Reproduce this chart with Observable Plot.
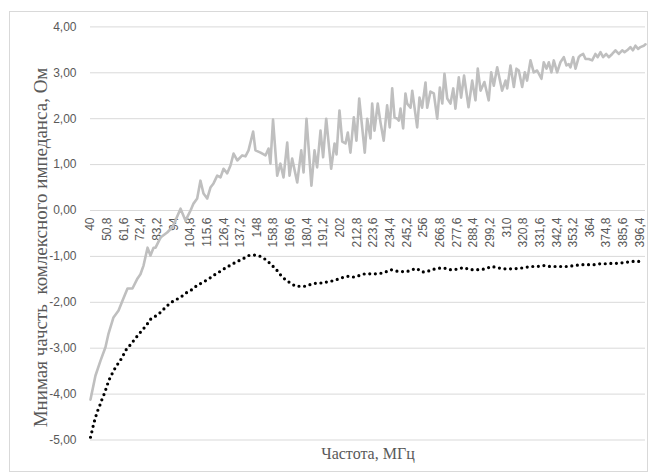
<!DOCTYPE html>
<html>
<head>
<meta charset="utf-8">
<script src="https://cdn.jsdelivr.net/npm/d3@7"></script>
<script src="https://cdn.jsdelivr.net/npm/@observablehq/plot@0.6"></script>
<style>
  html, body { margin: 0; padding: 0; background: #fff; }
</style>
</head>
<body>
<div id="chart"></div>
<script>
// ---- Data ----
const xTickValues = [40, 50.8, 61.6, 72.4, 83.2, 94, 104.8, 115.6, 126.4, 137.2, 148, 158.8, 169.6, 180.4, 191.2, 202, 212.8, 223.6, 234.4, 245.2, 256, 266.8, 277.6, 288.4, 299.2, 310, 320.8, 331.6, 342.4, 353.2, 364, 374.8, 385.6, 396.4];
const yTickValues = [-5, -4, -3, -2, -1, 0, 1, 2, 3, 4];

const grayFreq = [40.0, 43.2, 46.5, 49.7, 51.7, 54.9, 58.2, 60.8, 64.0, 67.2, 70.5, 72.4, 74.4, 77.0, 78.9, 80.9, 82.2, 85.4, 89.7, 93.0, 95.1, 98.4, 101.6, 104.9, 106.8, 109.2, 111.3, 113.3, 115.7, 117.8, 119.8, 122.2, 124.3, 126.3, 128.7, 130.8, 132.8, 135.2, 138.4, 140.5, 142.5, 145.5, 147.0, 150.3, 153.5, 155.5, 156.7, 158.4, 161.1, 163.2, 165.2, 167.6, 169.1, 170.8, 174.1, 176.7, 178.2, 180.1, 183.3, 185.3, 187.0, 189.2, 190.9, 192.9, 196.1, 198.3, 199.6, 201.5, 203.3, 205.4, 206.9, 208.6, 210.8, 212.5, 214.3, 217.9, 219.5, 221.6, 222.7, 224.2, 226.3, 228.1, 230.2, 232.4, 234.1, 235.7, 237.2, 238.9, 240.0, 241.1, 242.8, 244.3, 245.4, 247.6, 248.7, 251.9, 253.4, 255.1, 257.3, 258.4, 260.5, 262.7, 264.9, 266.6, 268.2, 269.6, 271.4, 273.5, 275.3, 276.7, 278.9, 280.4, 282.3, 285.2, 287.6, 289.7, 291.2, 293.0, 295.5, 298.3, 299.9, 301.6, 303.8, 307.0, 309.2, 310.3, 312.4, 314.6, 316.3, 317.8, 320.0, 321.7, 323.2, 325.4, 327.5, 329.7, 332.5, 334.0, 335.8, 337.3, 339.0, 340.5, 342.7, 344.8, 347.0, 348.7, 350.2, 351.3, 353.1, 354.6, 356.7, 357.8, 359.6, 361.1, 363.2, 365.4, 367.5, 369.0, 370.8, 372.5, 374.5, 376.2, 378.4, 380.5, 382.7, 384.9, 386.4, 388.1, 390.2, 391.8, 393.5, 395.2, 396.7, 398.9, 400.0];
const grayValue = [-4.12, -3.60, -3.27, -2.98, -2.68, -2.33, -2.18, -1.96, -1.70, -1.70, -1.48, -1.39, -1.20, -0.81, -0.98, -0.81, -0.81, -0.59, -0.48, -0.37, -0.22, 0.04, -0.22, 0.00, 0.15, 0.26, 0.65, 0.37, 0.26, 0.50, 0.59, 0.76, 0.72, 0.91, 0.81, 0.98, 1.24, 1.09, 1.20, 1.18, 1.31, 1.72, 1.31, 1.26, 1.20, 1.35, 1.02, 1.98, 0.76, 1.02, 0.72, 1.48, 0.76, 1.13, 0.61, 1.31, 0.83, 2.00, 0.54, 1.31, 0.94, 1.74, 1.16, 2.00, 0.91, 1.46, 1.22, 2.18, 1.50, 1.46, 1.70, 1.26, 2.03, 1.52, 2.44, 1.26, 2.00, 1.57, 2.33, 1.74, 2.33, 1.92, 1.52, 2.29, 1.81, 2.66, 2.03, 2.00, 1.96, 2.22, 1.79, 2.55, 2.33, 2.24, 2.61, 1.81, 2.46, 2.24, 2.79, 2.24, 2.59, 2.55, 2.00, 2.68, 2.33, 2.98, 2.44, 2.33, 2.66, 2.22, 2.90, 2.46, 2.94, 2.25, 2.83, 2.40, 3.09, 2.61, 2.80, 2.40, 3.01, 2.72, 3.12, 2.61, 2.83, 2.66, 3.16, 2.69, 3.09, 3.05, 2.69, 3.01, 2.83, 3.27, 3.01, 3.05, 2.87, 3.23, 3.09, 3.23, 3.01, 3.27, 3.01, 3.23, 3.34, 3.16, 3.19, 3.12, 3.34, 3.09, 3.34, 3.38, 3.41, 3.30, 3.30, 3.27, 3.41, 3.34, 3.45, 3.34, 3.41, 3.34, 3.41, 3.49, 3.41, 3.49, 3.45, 3.49, 3.56, 3.49, 3.59, 3.52, 3.56, 3.59, 3.62];

const blackFreq = [40.0, 41.1, 42.1, 44.3, 46.0, 47.6, 49.1, 51.9, 54.1, 56.2, 58.4, 60.6, 62.7, 65.5, 68.1, 70.7, 73.5, 76.3, 78.9, 82.2, 85.4, 88.6, 91.9, 95.1, 98.4, 102.3, 106.0, 109.2, 113.1, 116.7, 120.0, 123.9, 127.6, 131.3, 135.2, 139.0, 142.7, 146.4, 150.3, 154.2, 157.9, 160.6, 163.2, 166.5, 169.7, 173.0, 176.2, 179.4, 183.8, 187.0, 190.9, 193.9, 197.8, 201.0, 204.3, 207.5, 210.8, 214.0, 217.9, 221.6, 224.8, 228.1, 231.3, 235.0, 238.5, 241.7, 245.4, 248.7, 251.4, 255.1, 258.4, 261.6, 264.9, 269.2, 272.4, 275.6, 278.9, 282.1, 286.0, 289.1, 292.5, 296.2, 299.9, 303.8, 307.0, 310.7, 314.5, 318.4, 322.1, 325.8, 329.7, 334.0, 337.9, 341.6, 345.3, 349.6, 353.9, 358.3, 362.6, 366.9, 370.8, 375.1, 379.0, 382.7, 387.0, 391.3, 395.6, 397.5];
const blackValue = [-4.94, -4.79, -4.64, -4.39, -4.25, -4.10, -3.98, -3.70, -3.55, -3.42, -3.31, -3.20, -3.05, -2.94, -2.83, -2.72, -2.61, -2.50, -2.37, -2.30, -2.22, -2.11, -2.01, -1.95, -1.89, -1.79, -1.72, -1.63, -1.56, -1.49, -1.41, -1.33, -1.25, -1.18, -1.11, -1.05, -0.98, -0.97, -1.00, -1.08, -1.20, -1.29, -1.40, -1.51, -1.58, -1.65, -1.65, -1.65, -1.60, -1.58, -1.58, -1.55, -1.53, -1.49, -1.45, -1.43, -1.45, -1.42, -1.38, -1.38, -1.38, -1.37, -1.34, -1.29, -1.32, -1.33, -1.33, -1.29, -1.26, -1.34, -1.33, -1.29, -1.26, -1.25, -1.29, -1.29, -1.27, -1.24, -1.29, -1.29, -1.29, -1.27, -1.22, -1.24, -1.27, -1.27, -1.27, -1.26, -1.24, -1.22, -1.22, -1.20, -1.22, -1.22, -1.22, -1.22, -1.20, -1.18, -1.18, -1.18, -1.16, -1.16, -1.15, -1.15, -1.13, -1.11, -1.11, -1.10];

const yTitle = "Мнимая чачсть  комлексного импеданса, Ом";
const xTitle = "Частота, МГц";

// ---- Tables built from the arrays ----
const gray = grayFreq.map((f, i) => ({f, v: grayValue[i]}));
const black = blackFreq.map((f, i) => ({f, v: blackValue[i]}));
const fmtX = d => String(d).replace(".", ",");
const fmtY = d => d.toFixed(2).replace(".", ",");

const W = 650, H = 473;
const serif = "'Liberation Serif', 'Times New Roman', serif";
const plot = Plot.plot({
  width: W,
  height: H,
  marginLeft: 90,
  marginRight: 5,
  marginTop: 26.4,
  marginBottom: 33.5,
  style: {fontFamily: "'Liberation Sans', Arial, sans-serif", fontSize: "12px", color: "#595959", background: "#fff"},
  x: {domain: [40, 400], axis: null},
  y: {domain: [-5, 4]},
  marks: [
    Plot.ruleY(yTickValues, {stroke: "#d9d9d9", strokeWidth: 1}),
    Plot.axisY({ticks: yTickValues, tickSize: 0, tickPadding: 14, tickFormat: fmtY, label: null, fill: "#595959"}),
    Plot.text(xTickValues, {x: d => d, y: 0, text: fmtX, rotate: -90, textAnchor: "end", dy: 7, fill: "#595959"}),
    Plot.line(black, {x: "f", y: "v", stroke: "#000", strokeWidth: 3.2, strokeDasharray: "0,5.6", strokeLinecap: "round"}),
    Plot.line(gray, {x: "f", y: "v", stroke: "#bfbfbf", strokeWidth: 2.6, strokeLinejoin: "round"}),
    Plot.text([yTitle], {frameAnchor: "left", rotate: -90, textAnchor: "middle", lineAnchor: "middle", dx: -50, dy: 14, fontFamily: serif, fontSize: 19, fill: "#595959"}),
    Plot.text([xTitle], {frameAnchor: "bottom", textAnchor: "middle", lineAnchor: "middle", dy: 13.5, fontFamily: serif, fontSize: 16, fill: "#595959"})
  ]
});

d3.select(plot).append("rect")
  .attr("x", 9.5).attr("y", 11.5)
  .attr("width", 638).attr("height", 460)
  .attr("fill", "none").attr("stroke", "#d9d9d9");

document.getElementById("chart").appendChild(plot);
</script>
</body>
</html>
